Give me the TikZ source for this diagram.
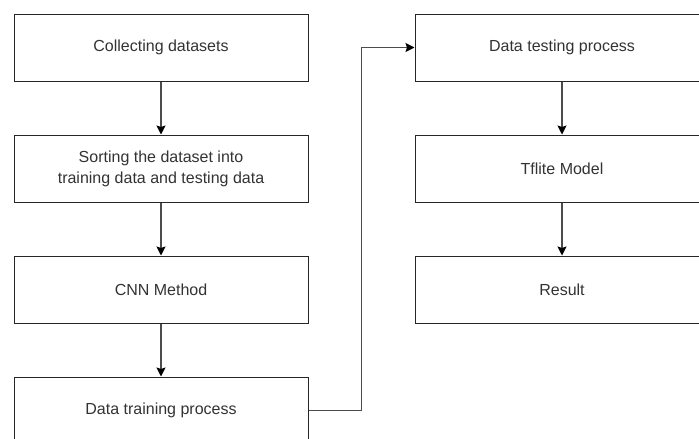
\documentclass[tikz,border=0pt]{standalone}
\usepackage{fontspec}
\setmainfont{Liberation Sans}
\usetikzlibrary{positioning}
\usetikzlibrary{arrows.meta}
\tikzset{%
	>={Stealth[width=9pt,length=9pt,inset=1.5pt,color=black]},
	% Specifications for style of nodes:
	base/.style = {rectangle, draw=black!85, line width=1pt, minimum width=294pt, minimum height=67pt, text centered, align=center, text=black!80, font=\fontsize{16}{21}\selectfont},
	process/.style = {base, fill=white},
	link/.style = {draw=black!70, line width=1.2pt},
}
\begin{document}
\begin{tikzpicture}[x=1pt,y=1pt]
		\useasboundingbox (0,0) rectangle (699,-439);
		\clip (0,0) rectangle (699,-439);
		\node (Collect) [process] at (161,-47.5) {Collecting datasets};
		\node (Sort) [process,below =53pt of Collect]  {Sorting the dataset into\\training data and testing data};
		\node (CNN) [process,below =53pt of Sort]  {CNN Method};
		\node (Train) [process,below =53pt of CNN]  {Data training process};
		
		\node (Test) [process,right =106pt of Collect] {Data testing process};
		\node (Tflite) [process,below =53pt of Test] {Tflite Model};
		\node (Result) [process,below =53pt of Tflite] {Result};
		
		\draw [link,->] (Collect) -- (Sort);
		\draw [link,->] (Sort) -- (CNN);
		\draw [link,->] (CNN) -- (Train);
		\draw [link,->] (Train.east) -- ++(53pt,0) |- (Test.west);
		
		\draw [link,->] (Test) -- (Tflite);
		\draw [link,->] (Tflite) -- (Result);
		
     \end{tikzpicture}
\end{document}
